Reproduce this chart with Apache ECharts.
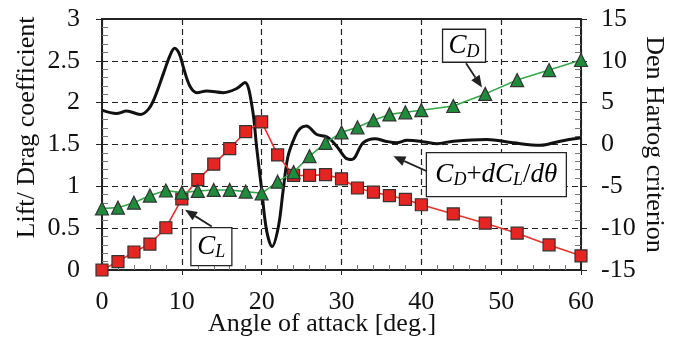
<!DOCTYPE html>
<html>
<head>
<meta charset="utf-8">
<script src="https://cdn.jsdelivr.net/npm/echarts@6/dist/echarts.min.js"></script>
<style>
html,body{margin:0;padding:0;background:#fff}
#chart{width:683px;height:338px}
</style>
</head>
<body>
<div id="chart"></div>
<script>
// angle of attack [deg.]
var angle = [0,2,4,6,8,10,12,14,16,18,20,22,24,26,28,30,32,34,36,38,40,44,48,52,56,60];
// lift coefficient CL
var liftCoef = [0.0,0.1,0.215,0.31,0.505,0.85,1.08,1.265,1.45,1.655,1.77,1.375,1.13,1.13,1.14,1.09,0.98,0.93,0.89,0.845,0.78,0.67,0.56,0.44,0.30,0.17];
// drag coefficient CD
var dragCoef = [0.735,0.745,0.805,0.89,0.95,0.925,0.945,0.957,0.957,0.937,0.917,1.056,1.17,1.36,1.52,1.645,1.705,1.79,1.86,1.885,1.91,1.96,2.105,2.27,2.39,2.51];
// Den Hartog criterion CD + dCL/dθ (right axis)
var dhAngle = [0,1.8,3.1,4.8,5.8,6.6,7.7,8.5,9.1,9.7,10.2,11.0,11.9,13.1,15.2,16.9,17.9,18.8,19.4,20.0,20.6,21.3,22.1,22.7,23.3,24.2,24.8,25.6,26.9,28.2,29.4,30.5,31.3,32.7,34.2,35.5,36.9,38.2,39.8,41.9,44.0,48.2,51.5,54.9,57.4,60];
var dhValue = [4.1,3.7,4.0,3.6,4.2,5.6,8.5,10.6,11.5,10.8,9.2,7.0,6.2,6.4,6.2,6.7,7.4,4.5,-0.6,-5.4,-10.2,-12.2,-9.8,-5.4,-1.4,1.0,1.9,2.2,1.2,0.9,-0.2,-1.6,-1.8,0.2,0.7,0.4,0.2,0.5,0.4,0.1,0.4,0.6,0.2,-0.1,0.4,0.8];

var serif = 'Liberation Serif';

function pairs(xs, ys) {
    var out = [];
    for (var i = 0; i < xs.length; i++) {
        out.push([xs[i], ys[i]]);
    }
    return out;
}

// annotation boxes: at = box centre, from/to = arrow (left axis units)
var notes = [
    {text: '{i|C}{s|L}', at: [13.7, 0.28], w: 41, h: 38, from: [13.75, 0.52], to: [10.4, 0.72]},
    {text: '{i|C}{s|D}', at: [45.35, 2.68], w: 43, h: 33, from: [45.6, 2.47], to: [47.6, 2.18]},
    {text: '{i|C}{s|D}{n|+}{i|dC}{s|L}{n|/}{i|dθ}', at: [49.4, 1.14], w: 140, h: 44, from: [40.7, 1.18], to: [36.5, 1.36]}
];

var rich = {
    i: {fontFamily: serif, fontStyle: 'italic', fontSize: 27, lineHeight: 30, color: '#111'},
    n: {fontFamily: serif, fontSize: 27, lineHeight: 30, color: '#111'},
    s: {fontFamily: serif, fontStyle: 'italic', fontSize: 18, lineHeight: 14, verticalAlign: 'bottom', color: '#111'}
};

var chart = echarts.init(document.getElementById('chart'));

var option = {
    animation: false,
    backgroundColor: '#fff',
    grid: {
        left: 102, right: 102, top: 19, bottom: 68,
        outerBoundsMode: 'none',
        show: true, borderColor: '#222', borderWidth: 2
    },
    xAxis: {
        type: 'value', min: 0, max: 60, interval: 10,
        name: 'Angle of attack [deg.]',
        nameLocation: 'middle', nameGap: 41, nameMoveOverlap: false,
        nameTextStyle: {fontFamily: serif, fontSize: 26, color: '#111', padding: [0, 39, 0, 0]},
        axisLine: {lineStyle: {color: '#222', width: 2}},
        axisTick: {length: 5, lineStyle: {color: '#222'}},
        minorTick: {show: true, splitNumber: 5, length: -5, lineStyle: {color: '#777'}},
        axisLabel: {fontFamily: serif, fontSize: 26, color: '#111', margin: 19},
        splitLine: {lineStyle: {color: '#222', type: [6, 4], width: 1.2}}
    },
    yAxis: [
        {
            type: 'value', min: 0, max: 3, interval: 0.5,
            name: 'Lift/ Drag coefficient',
            nameLocation: 'middle', nameGap: 62, nameMoveOverlap: false,
            nameTextStyle: {fontFamily: serif, fontSize: 26, color: '#111', padding: [0, 0, 0, 34]},
            axisLine: {show: true, lineStyle: {color: '#222', width: 2}},
            axisTick: {show: true, length: 6, lineStyle: {color: '#222'}},
            minorTick: {show: true, splitNumber: 5, length: -6, lineStyle: {color: '#777'}},
            axisLabel: {fontFamily: serif, fontSize: 26, color: '#111', margin: 22},
            splitLine: {lineStyle: {color: '#222', type: [6, 4], width: 1.2}}
        },
        {
            type: 'value', min: -15, max: 15, interval: 5,
            name: 'Den Hartog criterion',
            nameLocation: 'middle', nameGap: 60, nameRotate: -90, nameMoveOverlap: false,
            nameTextStyle: {fontFamily: serif, fontSize: 26, color: '#111'},
            axisLine: {show: true, lineStyle: {color: '#222', width: 2}},
            axisTick: {show: true, length: 6, lineStyle: {color: '#222'}},
            minorTick: {show: true, splitNumber: 5, length: -6, lineStyle: {color: '#777'}},
            axisLabel: {fontFamily: serif, fontSize: 26, color: '#111', margin: 20},
            splitLine: {show: false}
        }
    ],
    series: [
        {
            name: 'CD+dCL/dθ', type: 'line', yAxisIndex: 1, z: 2,
            data: pairs(dhAngle, dhValue),
            smooth: 0.35, showSymbol: false,
            lineStyle: {color: '#111', width: 3}
        },
        {
            name: 'CL', type: 'line', z: 3,
            data: pairs(angle, liftCoef),
            symbol: 'rect', symbolSize: 12,
            lineStyle: {color: '#e8322b', width: 1.6},
            itemStyle: {color: '#e52521', borderColor: '#333', borderWidth: 1.2}
        },
        {
            name: 'CD', type: 'line', z: 4,
            data: pairs(angle, dragCoef),
            symbol: 'triangle', symbolSize: 13,
            lineStyle: {color: '#35a849', width: 1.6},
            itemStyle: {color: '#1e8c3a', borderColor: '#333', borderWidth: 1.2}
        }
    ]
};

chart.setOption(option);

function buildNotes() {
    var g = [];
    notes.forEach(function (n) {
        var c = chart.convertToPixel({gridIndex: 0}, n.at);
        var t = chart.convertToPixel({gridIndex: 0}, n.from);
        var h = chart.convertToPixel({gridIndex: 0}, n.to);
        g.push({type: 'rect', z: 100,
            shape: {x: c[0] - n.w / 2, y: c[1] - n.h / 2, width: n.w, height: n.h},
            style: {fill: '#fff', stroke: '#222', lineWidth: 1.3}});
        g.push({type: 'text', z: 101, x: c[0], y: c[1],
            style: {text: n.text, rich: rich, align: 'center', verticalAlign: 'middle'}});
        var ang = Math.atan2(h[1] - t[1], h[0] - t[0]);
        var L = 12, W = 5;
        var bx = h[0] - L * Math.cos(ang), by = h[1] - L * Math.sin(ang);
        g.push({type: 'line', z: 100,
            shape: {x1: t[0], y1: t[1], x2: bx, y2: by},
            style: {stroke: '#222', lineWidth: 1.8}});
        g.push({type: 'polygon', z: 100,
            shape: {points: [[h[0], h[1]],
                [bx - W * Math.sin(ang), by + W * Math.cos(ang)],
                [bx + W * Math.sin(ang), by - W * Math.cos(ang)]]},
            style: {fill: '#222'}});
    });
    chart.setOption({graphic: g});
}
buildNotes();
</script>
</body>
</html>
